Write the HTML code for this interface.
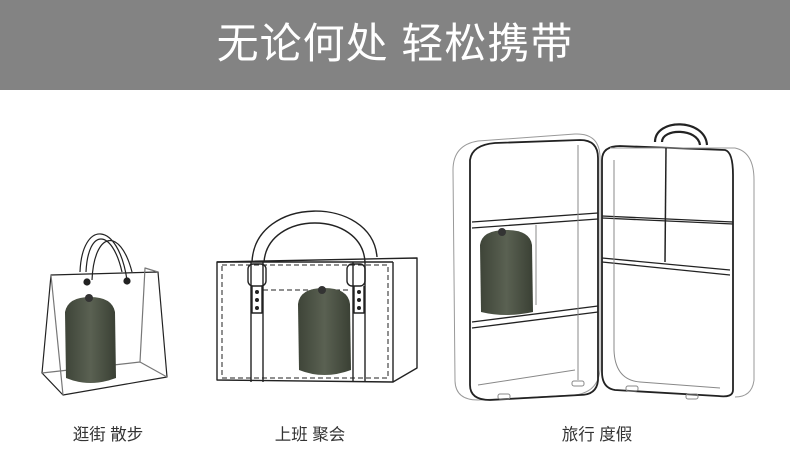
<!DOCTYPE html>
<html><head><meta charset="utf-8"><style>
body{margin:0;width:790px;height:463px;background:#fff;overflow:hidden;position:relative;font-family:"Liberation Sans","Noto Sans CJK SC",sans-serif}
.hd{position:absolute;left:0;top:0;width:790px;height:90px;background:#838383;color:#fff;font-size:42px;text-align:center;line-height:88px;letter-spacing:1px}
.lb{position:absolute;top:421px;font-size:16.5px;color:#333;width:160px;text-align:center}
svg{position:absolute;left:0;top:0}
</style></head><body>
<div class="hd">无论何处 轻松携带</div>
<svg width="790" height="463" viewBox="0 0 790 463" fill="none" stroke="#222" stroke-linejoin="round">
<defs><linearGradient id="g" x1="0" x2="1"><stop offset="0" stop-color="#3e4438"/><stop offset=".5" stop-color="#5a6152"/><stop offset="1" stop-color="#3a4034"/></linearGradient></defs>
<!-- left bag -->
<g stroke-width="1.2">
<path d="M42 373 L51 275 L158 272 L167 377 L63 395 Z"/>
<path d="M51 275 L63 395 M42 373 L140 362 L167 377 M140 362 L145 268 L158 272" stroke="#777"/>
<path d="M80 272 C82 220 118 220 127 280 M86 272 C88 228 112 228 122 272 M92 280 C94 232 120 226 132 272" />
<circle cx="87" cy="282" r="3" fill="#222"/><circle cx="127" cy="281" r="3" fill="#222"/>
</g>
<path d="M65 312 Q68 297 90 297 Q112 297 115 312 L116 378 Q90 388 66 378 Z" fill="url(#g)" stroke="none"/>
<circle cx="89" cy="298" r="4" fill="#333" stroke="none"/>
<!-- middle bag -->
<g stroke-width="1.4">
<path d="M217 262 L217 380 L393 382 L417 368 L417 258 Z"/>
<path d="M393 262 L393 382 M217 262 L393 262"/>
<path d="M222 265 L388 265 L388 378 L222 378 Z" stroke-dasharray="5 3" stroke-width="1"/>
<path d="M263 290 L350 290" stroke-dasharray="5 3" stroke-width="1"/>
<path d="M252 262 C255 195 372 195 377 257 M264 262 C268 210 362 210 365 262"/>
<path d="M251 262 L251 382 M263 262 L263 382 M353 262 L353 382 M365 262 L365 382"/>
<rect x="248" y="264" width="18" height="22" rx="5"/><rect x="347" y="264" width="18" height="22" rx="5"/>
<path d="M252 286 L252 313 L262 313 L262 286 M354 286 L354 313 L364 313 L364 286"/>
</g>
<g fill="#222" stroke="none"><circle cx="257" cy="292" r="2"/><circle cx="257" cy="300" r="2"/><circle cx="257" cy="308" r="2"/><circle cx="359" cy="292" r="2"/><circle cx="359" cy="300" r="2"/><circle cx="359" cy="308" r="2"/></g>
<path d="M298 304 Q300 288 324 288 Q348 288 350 304 L351 370 Q324 380 299 370 Z" fill="url(#g)" stroke="none"/>
<circle cx="322" cy="290" r="4" fill="#333" stroke="none"/>
<!-- suitcase -->
<g stroke-width="1.8">
<path d="M453 170 Q453 145 478 141 L575 134 Q600 133 600 158 L600 370 Q598 392 575 395 L478 400 Q455 400 455 380 Z" stroke="#999" stroke-width="1"/>
<path d="M470 160 Q472 145 495 143 L580 140 Q598 140 598 158 L598 380 Q597 395 580 395 L490 400 Q470 400 470 385 Z"/>
<path d="M472 222 L598 213 M472 228 L598 219 M472 322 L598 306 M472 328 L598 312" stroke-width="1.3"/>
<path d="M578 145 L578 380 M536 225 L536 305" stroke="#888" stroke-width="1"/>
<path d="M602 160 Q602 146 620 146 L725 150 Q733 152 733 175 L733 390 Q733 398 718 396 L615 390 Q602 388 602 372 Z"/>
<path d="M610 148 L735 148 Q754 152 754 180 L754 380 Q752 397 735 397" stroke="#999" stroke-width="1"/>
<path d="M602 218 L733 224 M602 216 L733 222 M602 258 L730 270 M602 262 L730 275" stroke-width="1.3"/>
<path d="M666 148 L665 262" stroke-width="1.5"/>
<path d="M614 160 L614 350 Q615 380 640 382 L720 388" stroke="#888" stroke-width="1"/>
<path d="M655 142 C655 118 705 118 707 145 M662 142 C662 128 698 128 700 145" stroke-width="2.2"/>
<path d="M478 385 L575 370" stroke="#888" stroke-width="1"/>
</g>
<g stroke="#888" stroke-width="1"><rect x="498" y="394" width="12" height="5" rx="2"/><rect x="572" y="381" width="12" height="5" rx="2"/><rect x="626" y="386" width="12" height="5" rx="2"/><rect x="686" y="394" width="12" height="5" rx="2"/></g>
<path d="M480 245 Q482 230 506 230 Q530 230 532 245 L533 312 Q506 318 481 312 Z" fill="url(#g)" stroke="none"/>
<circle cx="502" cy="232" r="4" fill="#333" stroke="none"/>
</svg>
<div class="lb" style="left:28px">逛街 散步</div>
<div class="lb" style="left:230px">上班 聚会</div>
<div class="lb" style="left:517px">旅行 度假</div>
</body></html>
